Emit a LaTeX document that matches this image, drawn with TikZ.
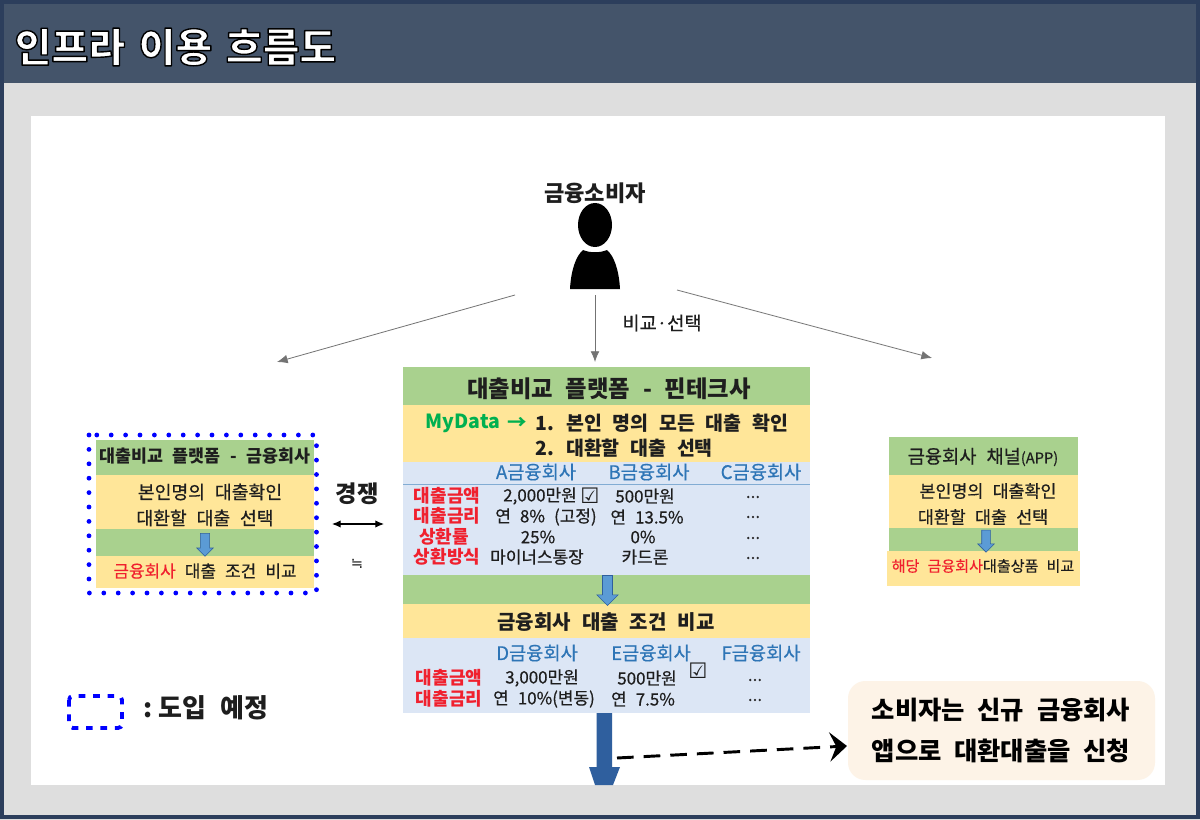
\documentclass[tikz,border=0pt]{standalone}
\usepackage{fontspec}
\setmainfont[WordSpace=2.4]{Noto Sans CJK KR}
\newfontfamily\heavyfont[WordSpace=2.2]{Noto Sans CJK KR Black}
\newfontfamily\mediumfont[WordSpace=2.4,FakeBold=0.5]{Noto Sans CJK KR}
\newfontfamily\symbolfont{DejaVu Sans}
\usetikzlibrary{shapes.geometric, shapes.arrows, arrows.meta}
\definecolor{framenavy}{HTML}{2C3E5C}
\definecolor{headnavy}{HTML}{44546A}
\definecolor{papergray}{HTML}{DEDEDE}
\definecolor{bargreen}{HTML}{A9D18E}
\definecolor{baryellow}{HTML}{FFE699}
\definecolor{barblue}{HTML}{DCE6F5}
\definecolor{firmblue}{HTML}{2E75B6}
\definecolor{itemred}{HTML}{F0202E}
\definecolor{datagreen}{HTML}{00B050}
\definecolor{arrowblue}{HTML}{5B9BD5}
\definecolor{shaftblue}{HTML}{2F5F9E}
\definecolor{bubblecream}{HTML}{FDF3E7}
\definecolor{inkdark}{HTML}{1E1E1E}
\newcommand{\outlinetext}[1]{\special{pdf:code q 2 Tr 1 j 1.05 w 0 0 0 RG 1 1 1 rg}\spaceskip=.34em\relax#1\special{pdf:code Q}}
\tikzset{
  bar/.style={inner sep=0pt, outer sep=0pt},
  smallarrow/.style={single arrow, shape border rotate=270, draw=shaftblue, fill=arrowblue, line width=0.4pt, outer sep=0pt, single arrow tip angle=90},
  sizeA/.style={font=\fontsize{17.5}{20}\selectfont\bfseries, text=inkdark, inner sep=0pt},
  sizeB/.style={font=\fontsize{14.6}{18}\selectfont\bfseries, text=inkdark, inner sep=0pt},
  sizeC/.style={font=\fontsize{12.7}{15}\selectfont\mediumfont, text=inkdark, inner sep=0pt},
  sizeD/.style={font=\fontsize{13.3}{16}\selectfont\mediumfont, text=inkdark, inner sep=0pt},
  firm/.style={font=\fontsize{14}{16}\selectfont\mediumfont, text=firmblue, inner sep=0pt},
  item/.style={font=\fontsize{13.5}{15}\selectfont\bfseries, text=itemred, inner sep=0pt},
  checkmark/.style={font=\fontsize{16}{16}\selectfont\symbolfont\bfseries, text=inkdark, inner sep=0pt},
  grayarrow/.style={draw=black!55, line width=0.6pt, -{Latex[length=8pt,width=6.5pt]}},
}
\begin{document}
\begin{tikzpicture}[x=0.75pt,y=0.75pt,yscale=-1,xscale=1]
\useasboundingbox (0,0) rectangle (1200,820);

%Shape: Frame and header
\fill[papergray] (0,0) rectangle (1200,820);
\fill[headnavy] (0,0) rectangle (1200,83);
\draw[framenavy, line width=3.3pt] (2,2) rectangle (1198,817);
\fill[white] (31,116) rectangle (1165,785);
% Text Node
\draw (175.5,47) node (pagetitle) [font=\fontsize{30}{33}\selectfont\heavyfont, inner sep=0pt] {\outlinetext{인프라 이용 흐름도}};

%Shape: Consumer
\draw (595,193) node (consumer) [font=\fontsize{16.6}{19}\selectfont\bfseries, text=inkdark, inner sep=0pt] {금융소비자};
\node (consumerhead) at (595,225) [ellipse, fill=black, minimum width=34*.75pt, minimum height=44*.75pt, inner sep=0pt] {};
\fill[black] (570,289) .. controls (571,270) and (576,256) .. (583,250) .. controls (590,253) and (600,253) .. (607,250) .. controls (614,256) and (619,270) .. (620,289) -- cycle;

%Straight Lines: consumer to the three channels
\coordinate (fromleft) at (515,295);
\coordinate (toleft) at (277,362);
\coordinate (frommid) at (595,295);
\coordinate (tomid) at (595,362);
\coordinate (fromright) at (677,290);
\coordinate (toright) at (932,358);
\draw[grayarrow] (fromleft) -- (toleft);
\draw[grayarrow] (frommid) -- (tomid);
\draw[grayarrow] (fromright) -- (toright);
\draw (662,323) node (compare) [font=\fontsize{14}{16}\selectfont\mediumfont, text=inkdark, inner sep=0pt] {비교·선택};

%Shape: Fintech platform
\node (midgreen) at (606.5,386) [bar, fill=bargreen, minimum width=407*.75pt, minimum height=38*.75pt] {};
\node (midyellow) at (606.5,433.5) [bar, fill=baryellow, minimum width=407*.75pt, minimum height=57*.75pt] {};
\node (midblue) at (606.5,518.5) [bar, fill=barblue, minimum width=407*.75pt, minimum height=113*.75pt] {};
\node (midgreentwo) at (606.5,589.5) [bar, fill=bargreen, minimum width=407*.75pt, minimum height=29*.75pt] {};
\node (midyellowtwo) at (606.5,621) [bar, fill=baryellow, minimum width=407*.75pt, minimum height=34*.75pt] {};
\node (midbluetwo) at (606.5,675.5) [bar, fill=barblue, minimum width=407*.75pt, minimum height=75*.75pt] {};
\draw[firmblue!60, line width=0.6pt] (midblue.west |- 0,484) -- (midblue.east |- 0,484);

% Text Node
\draw (609,389) node (midtitle) [sizeA] {대출비교 플랫폼 - 핀테크사};
\draw (463,423) node (mydata) [sizeB, text=datagreen] {MyData};
\draw (517,423) node (mydataarrow) [sizeB, text=datagreen] {→};
\draw (535,423) node (stepone) [sizeB, anchor=west] {1. 본인 명의 모든 대출 확인};
\draw (535,448) node (steptwo) [sizeB, anchor=west] {2. 대환할 대출 선택};

\draw (536,472) node (firma) [firm] {A금융회사};
\draw (649,472) node (firmb) [firm] {B금융회사};
\draw (761,472) node (firmc) [firm] {C금융회사};
\draw (447,496) node (amount) [item] {대출금액};
\draw (447,516) node (rate) [item] {대출금리};
\draw (444,537) node (repay) [item] {상환률};
\draw (447,557) node (method) [item] {상환방식};
\draw (540,496) node (amounta) [sizeC] {2,000만원};
\draw (590,496) node (checka) [checkmark] {☑};
\draw (645,496) node (amountb) [sizeC] {500만원};
\draw (546,517) node (ratea) [sizeC] {연 8\% (고정)};
\draw (647,517) node (rateb) [sizeC] {연 13.5\%};
\draw (538,537) node (repaya) [sizeC] {25\%};
\draw (643,537) node (repayb) [sizeC] {0\%};
\draw (537,557) node (methoda) [sizeC] {마이너스통장};
\draw (645,557) node (methodb) [sizeC] {카드론};
\draw (753,497) node (dotsa) [sizeC] {...};
\draw (753,517) node (dotsb) [sizeC] {...};
\draw (753,538) node (dotsc) [sizeC] {...};
\draw (753,558) node (dotsd) [sizeC] {...};

\node (midarrow) at (607.5,588) [smallarrow, inner sep=3.55pt, minimum height=30*.75pt, single arrow head extend=4.3pt] {};
\draw (606,622) node (midcompare) [sizeB, font=\fontsize{15}{18}\selectfont\bfseries] {금융회사 대출 조건 비교};

\draw (537,653) node (firmd) [firm] {D금융회사};
\draw (651,653) node (firme) [firm] {E금융회사};
\draw (761,653) node (firmf) [firm] {F금융회사};
\draw (449,678) node (amounttwo) [item] {대출금액};
\draw (449,699) node (ratetwo) [item] {대출금리};
\draw (542,678) node (amountd) [sizeC] {3,000만원};
\draw (647,678) node (amounte) [sizeC] {500만원};
\draw (698,671) node (checke) [checkmark] {☑};
\draw (544,699) node (rated) [sizeC] {연 10\%(변동)};
\draw (643,699) node (ratee) [sizeC] {연 7.5\%};
\draw (755,680) node (dotse) [sizeC] {...};
\draw (755,700) node (dotsf) [sizeC] {...};

%Shape: Arrow going out of the picture
\fill[shaftblue] (596.5,713) -- (612,713) -- (612,767) -- (620,767) -- (613,785) -- (595,785) -- (589,767) -- (596.5,767) -- cycle;

%Shape: Bank platform
\node (leftgreen) at (205,457.5) [bar, fill=bargreen, minimum width=218*.75pt, minimum height=35*.75pt] {};
\node (leftyellow) at (205,502) [bar, fill=baryellow, minimum width=218*.75pt, minimum height=54*.75pt] {};
\node (leftgreentwo) at (205,542.5) [bar, fill=bargreen, minimum width=218*.75pt, minimum height=27*.75pt] {};
\node (leftyellowtwo) at (205,572) [bar, fill=baryellow, minimum width=218*.75pt, minimum height=32*.75pt] {};
\draw[blue, line width=3.6pt, line cap=round, dash pattern=on 0pt off 10.8pt] (89,435) rectangle (316.5,593);
% Text Node
\draw (205,456) node (lefttitle) [sizeD, font=\fontsize{13}{16}\selectfont\bfseries] {대출비교 플랫폼 - 금융회사};
\draw (210,492) node (leftlineone) [sizeD, font=\fontsize{13.7}{16}\selectfont\mediumfont] {본인명의 대출확인};
\draw (205,518) node (leftlinetwo) [sizeD, font=\fontsize{13.7}{16}\selectfont\mediumfont] {대환할 대출 선택};
\node (leftarrow) at (205,542.5) [smallarrow, inner sep=3.2pt, minimum height=23*.75pt, single arrow head extend=2.8pt] {};
\draw (205,571) node (leftcompare) [sizeD, font=\fontsize{12.7}{16}\selectfont\mediumfont] {\textcolor{itemred}{금융회사} 대출 조건 비교};

%Shape: Bank channel
\node (rightgreen) at (983,456) [bar, fill=bargreen, minimum width=189*.75pt, minimum height=38*.75pt] {};
\node (rightyellow) at (983,501.5) [bar, fill=baryellow, minimum width=189*.75pt, minimum height=53*.75pt] {};
\node (rightgreentwo) at (983,539.5) [bar, fill=bargreen, minimum width=189*.75pt, minimum height=23*.75pt] {};
\node (rightyellowtwo) at (983,568.5) [bar, fill=baryellow, minimum width=193*.75pt, minimum height=35*.75pt] {};
% Text Node
\draw (983,457) node (righttitle) [sizeD, font=\fontsize{14}{16}\selectfont\mediumfont] {금융회사 채널{\fontsize{11}{12}\selectfont(APP)}};
\draw (988,491) node (rightlineone) [sizeD, font=\fontsize{13}{16}\selectfont\mediumfont] {본인명의 대출확인};
\draw (983,517) node (rightlinetwo) [sizeD, font=\fontsize{13}{16}\selectfont\mediumfont] {대환할 대출 선택};
\node (rightarrow) at (986,539) [smallarrow, inner sep=3pt, minimum height=22*.75pt, single arrow head extend=3pt] {};
\draw (983,566) node (rightcompare) [sizeD, font=\fontsize{11.3}{14}\selectfont\mediumfont] {\textcolor{itemred}{해당 금융회사}대출상품 비교};

%Straight Lines: competition
\draw (357,494) node (rival) [font=\fontsize{17.5}{20}\selectfont\bfseries, text=inkdark, inner sep=0pt] {경쟁};
\coordinate (rivalleft) at (332,524);
\coordinate (rivalright) at (384,524);
\draw[{Latex[length=6.5pt,width=5.5pt]}-{Latex[length=6.5pt,width=5.5pt]}, line width=0.8pt] (rivalleft) -- (rivalright);
\draw (357,564) node (nearly) [sizeC, font=\fontsize{11}{13}\selectfont\symbolfont] {≒};

%Shape: Legend
\draw[blue, line width=2.9pt, dash pattern=on 5pt off 5.8pt, rounded corners=3pt] (69,696) rectangle (122,728);
\draw (143,708) node (legend) [sizeA, anchor=west, font=\fontsize{19.5}{22}\selectfont\bfseries] {{\spaceskip=.15em\relax: }도입 예정};

%Shape: Callout
\node (callout) at (1001.5,730.5) [bar, fill=bubblecream, rounded corners=13pt, minimum width=307*.75pt, minimum height=99*.75pt] {};
\draw (1001,710) node (calloutone) [font=\fontsize{19}{22}\selectfont\heavyfont, text=black, inner sep=0pt] {소비자는 신규 금융회사};
\draw (1001,751) node (callouttwo) [font=\fontsize{19}{22}\selectfont\heavyfont, text=black, inner sep=0pt] {앱으로 대환대출을 신청};
\coordinate (dashstart) at (617,758);
\coordinate (dashend) at (847,746);
\draw[black, line width=2.2pt, dash pattern=on 12.5pt off 7.5pt, -{Stealth[length=13pt,width=22pt,inset=5pt]}] (dashstart) -- (dashend);

\end{tikzpicture}
\end{document}
